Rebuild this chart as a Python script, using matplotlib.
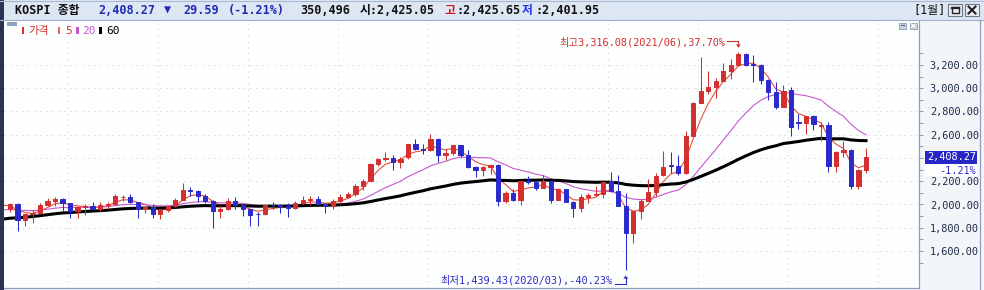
import numpy as np
import pandas as pd
import matplotlib
matplotlib.use("Agg")
import matplotlib.pyplot as plt
from matplotlib.patches import Rectangle, Polygon
from matplotlib.lines import Line2D
from matplotlib.transforms import IdentityTransform
from matplotlib.ticker import FixedLocator, FuncFormatter

# ---------------------------------------------------------------- data
months = pd.period_range("2013-05", "2022-11", freq="M").strftime("%Y/%m").tolist()

opens = [1963, 2001, 1863, 1914, 1926, 1997, 2030, 2045,
         2011, 1941, 1980, 1986, 1962, 1995, 2002, 2062, 2068, 2020, 1964, 1980,
         1915, 1949, 1986, 2041, 2127, 2115, 2074, 2030, 1941, 1963, 2029, 1992,
         1961, 1922, 1917, 1996, 1994, 1983, 1970, 2016, 2035, 2044, 2008, 1983,
         2026, 2067, 2092, 2160, 2205, 2347, 2392, 2403, 2363, 2410, 2523, 2476,
         2468, 2566, 2427, 2446, 2515, 2423, 2326, 2295, 2323, 2343, 2029, 2097,
         2041, 2205, 2195, 2141, 2204, 2042, 2131, 2025, 1968, 2063, 2083, 2088,
         2201, 2119, 1987, 1755, 1947, 2030, 2108, 2250, 2336, 2328, 2267, 2591,
         2874, 2976, 3013, 3061, 3148, 3204, 3297, 3210, 3199, 3069, 2971, 2839,
         2988, 2707, 2699, 2758, 2678, 2686, 2332, 2451, 2472, 2155, 2293]
highs = [2016, 2011, 1922, 1950, 2012, 2059, 2063, 2058,
         2013, 1986, 2004, 2018, 2020, 2023, 2093, 2082, 2093, 2025, 1990, 2000,
         1960, 1989, 2052, 2189, 2150, 2128, 2087, 2040, 1998, 2057, 2061, 2005,
         1961, 1934, 2003, 2022, 2000, 2011, 2027, 2073, 2073, 2069, 2015, 2048,
         2090, 2104, 2173, 2216, 2355, 2402, 2453, 2430, 2405, 2523, 2561, 2520,
         2607, 2573, 2474, 2515, 2516, 2471, 2330, 2330, 2346, 2345, 2114, 2134,
         2205, 2249, 2203, 2252, 2205, 2139, 2136, 2027, 2092, 2098, 2162, 2205,
         2277, 2250, 2098, 1947, 2050, 2223, 2269, 2459, 2448, 2424, 2634, 2878,
         3266, 3146, 3088, 3220, 3249, 3316.08, 3305, 3288, 3212, 3078, 3051, 3025,
         3010, 2780, 2758, 2767, 2707, 2706, 2460, 2546, 2474, 2306, 2489]
lows = [1935, 1770, 1815, 1840, 1915, 1990, 1985, 1940,
        1885, 1880, 1913, 1958, 1940, 1961, 1995, 2027, 2011, 1880, 1931, 1880,
        1876, 1932, 1982, 2038, 2072, 2020, 2009, 1800, 1886, 1955, 1961, 1901,
        1817, 1817, 1912, 1965, 1930, 1892, 1958, 2000, 1993, 2000, 1931, 1959,
        2007, 2052, 2076, 2124, 2200, 2332, 2374, 2300, 2311, 2394, 2469, 2434,
        2463, 2364, 2383, 2425, 2411, 2314, 2239, 2247, 2265, 1985, 2015, 2032,
        1994, 2175, 2125, 2140, 2016, 2040, 2019, 1891, 1938, 2010, 2079, 2054,
        2104, 1985, 1439.43, 1673, 1878, 2029, 2069, 2244, 2273, 2256, 2262, 2590,
        2869, 2954, 2919, 3061, 3083, 3197, 3193, 3055, 3036, 2901, 2818, 2837,
        2591.53, 2652, 2608, 2642, 2546, 2276, 2276, 2410, 2134, 2135, 2275]
closes = [2001.05, 1863.32, 1914.03, 1926.36, 1996.96, 2030.09, 2044.87, 2011.34,
          1941.15, 1979.99, 1985.61, 1961.79, 1994.96, 2002.21, 2076.12, 2068.54,
          2020.09, 1964.43, 1980.78, 1915.59,
          1949.26, 1985.80, 2041.03, 2127.17, 2114.80, 2074.20, 2030.16, 1941.49,
          1962.81, 2029.47, 1991.97, 1961.31,
          1912.06, 1916.66, 1995.85, 1994.15, 1983.40, 1970.35, 2016.19, 2034.65,
          2043.63, 2008.19, 1983.48, 2026.46,
          2067.57, 2091.64, 2160.23, 2205.44, 2347.38, 2391.79, 2402.71, 2363.19,
          2394.47, 2523.43, 2476.37, 2467.49,
          2566.46, 2427.36, 2445.85, 2515.38, 2423.01, 2326.13, 2295.26, 2322.88,
          2343.07, 2029.69, 2096.86, 2041.04,
          2204.85, 2195.44, 2140.67, 2203.59, 2041.74, 2130.62, 2024.55, 1967.79,
          2063.05, 2083.48, 2087.96, 2197.67,
          2119.01, 1987.01, 1754.64, 1947.56, 2029.60, 2108.33, 2249.37, 2326.17,
          2327.89, 2267.15, 2591.34, 2873.47,
          2976.21, 3012.95, 3061.42, 3147.86, 3203.92, 3296.68, 3202.32, 3199.27,
          3068.82, 2970.68, 2839.01, 2977.65,
          2663.34, 2699.18, 2757.65, 2695.05, 2685.90, 2332.64, 2451.50, 2472.05,
          2155.49, 2293.61, 2408.27]
# monthly closes 2008/05 - 2013/04 (off-screen lead-in for the moving averages)
history_close = [1852.02, 1674.92, 1594.67, 1474.24, 1448.06, 1113.06, 1076.07, 1124.47,
                 1162.11, 1063.03, 1206.26, 1369.36, 1395.89, 1390.07, 1557.29, 1591.85,
                 1673.14, 1580.69, 1555.60, 1682.77,
                 1602.43, 1594.58, 1692.85, 1741.56, 1641.25, 1698.29, 1759.33, 1742.75,
                 1872.81, 1882.95, 1904.63, 2051.00,
                 2069.73, 1939.30, 2106.70, 2192.36, 2142.47, 2100.69, 2133.21, 1880.11,
                 1769.65, 1909.03, 1847.51, 1825.74,
                 1955.79, 2030.25, 2014.04, 1981.99, 1843.47, 1854.01, 1881.99, 1905.12,
                 1996.21, 1912.06, 1932.90, 1997.05,
                 1961.94, 2026.49, 2004.89, 1963.95]
ma_periods = [5, 20, 60]
ma_colors = ["#e8503e", "#c957cf", "#000000"]
ma_widths = [0.8, 0.8, 2.2]
legend_labels = ["가격", "5", "20", "60"]
legend_colors = ["#d42f2f", "#e86a5a", "#c957cf", "#000000"]
y_ticks = [1600, 1800, 2000, 2200, 2400, 2600, 2800, 3000, 3200]
y_minor = [1500, 1700, 1900, 2100, 2300, 2500, 2700, 2900, 3100, 3300]

header_name = "KOSPI 종합"
last_price = 2408.27
change = 29.59
change_pct = -1.21
volume = "350,496"
day_open, day_high, day_low = 2425.05, 2425.65, 2401.95
period_label = "[1월]"

# ---------------------------------------------------------------- style
W, H, DPI = 984, 290, 100
RED = "#d42f2f"
BLUE = "#2b2bcc"
GRID = "#c3c9d4"
FRAME = "#8c9dbe"
MONO = ["DejaVu Sans Mono", "Noto Sans CJK KR", "DejaVu Sans"]
KR = ["Noto Sans CJK KR", "DejaVu Sans"]
plt.rcParams["font.family"] = MONO

fig = plt.figure(figsize=(W / DPI, H / DPI), dpi=DPI)
fig.patch.set_facecolor("#f3f6f9")
PX = IdentityTransform()


def rect(x0, y0, x1, y1, **kw):
    """rectangle given in top-origin pixel coordinates"""
    p = Rectangle((x0, H - y1), x1 - x0, y1 - y0, transform=PX, **kw)
    fig.add_artist(p)
    return p


def line(xs, ys, **kw):
    l = Line2D(xs, [H - y for y in ys], transform=PX, **kw)
    fig.add_artist(l)
    return l


def text(x, y, s, **kw):
    return fig.text(x, H - y, s, transform=PX, **kw)


# ---------------------------------------------------------------- axes
AX_L, AX_R, AX_T, AX_B = 4, 919, 20, 288
ax = fig.add_axes([AX_L / W, (H - AX_B) / H, (AX_R - AX_L) / W, (AX_B - AX_T) / H])
ax.set_facecolor("#fdfefe")

n = len(closes)
slot = 856 / 114.0
xmin = -(10 - AX_L) / slot
ax.set_xlim(xmin, xmin + (AX_R - AX_L) / slot)
ppu = 186 / 1600.0
y2000 = 204.5
ax.set_ylim(2000 - (AX_B - y2000) / ppu, 2000 + (y2000 - AX_T) / ppu)

# grid
for v in y_ticks:
    ax.axhline(v, color=GRID, lw=0.72, ls=(0, (1, 5)), zorder=0)
for gx in range(68, 900, 90):
    f = (gx - AX_L) / (AX_R - AX_L)
    ax.plot([f, f], [0, 1], transform=ax.transAxes, color=GRID, lw=0.72,
            ls=(0, (1, 5)), zorder=0)

# moving averages (weighted, as the terminal draws them)
full = np.array(history_close + closes, dtype=float)
full_x = np.arange(-len(history_close), n)
for p, colr, lw in zip(ma_periods, ma_colors, ma_widths):
    w = np.arange(1, p + 1, dtype=float)
    vals = np.full(len(full), np.nan)
    for t in range(p - 1, len(full)):
        vals[t] = np.dot(full[t - p + 1:t + 1], w) / w.sum()
    m = full_x >= -1
    ax.plot(full_x[m], vals[m], color=colr, lw=lw, zorder=2,
            solid_joinstyle="miter")

# candles
o = np.array(opens, float)
h = np.array(highs, float)
l = np.array(lows, float)
c = np.array(closes, float)
x = np.arange(n)
cols = np.where(c >= o, RED, BLUE)
ax.vlines(x, l, h, colors=cols, lw=0.75, zorder=3)
ax.bar(x, np.abs(c - o), bottom=np.minimum(o, c), width=0.56, color=cols,
       edgecolor=cols, linewidth=0.7, zorder=4)

# axis cosmetics (the 2,400 label sits under the current-price tag)
ax.set_xticks([])
ax.yaxis.tick_right()
ax.yaxis.set_major_locator(FixedLocator(y_ticks))
ax.yaxis.set_minor_locator(FixedLocator(y_minor))
ax.yaxis.set_major_formatter(
    FuncFormatter(lambda v, _: "" if abs(v - 2400) < 1 else f"{v:,.2f}"))
ax.tick_params(axis="y", which="both", direction="out", length=3.2, width=0.8,
               color=FRAME, pad=4.5, labelsize=7.4, labelcolor="#1f2a48")
for s in ["top", "left"]:
    ax.spines[s].set_visible(False)
for s in ["right", "bottom"]:
    ax.spines[s].set_color(FRAME)
    ax.spines[s].set_linewidth(0.9)

# high / low annotations
imax = int(np.argmax(h))
imin = int(np.argmin(l))
pmax = (h[imax] - c[-1]) / c[-1] * 100
pmin = (l[imin] - c[-1]) / c[-1] * 100
ax_, ay_ = ax.transData.transform((imax, h[imax]))
ay_ = H - ay_
text(ax_ - 13, ay_ - 9.3, f"최고{h[imax]:,.2f}({months[imax]}),{pmax:.2f}%",
     ha="right", va="center", color=RED, fontsize=7.4)
line([ax_ - 11, ax_, ax_], [ay_ - 10.5, ay_ - 10.5, ay_ - 6], color=RED, lw=0.8)
fig.add_artist(Polygon([(ax_ - 2.5, H - (ay_ - 7)), (ax_ + 2.5, H - (ay_ - 7)),
                        (ax_, H - (ay_ - 4))], closed=True, transform=PX,
                       color=RED, lw=0))

bx_, by_ = ax.transData.transform((imin, l[imin]))
by_ = H - by_
text(bx_ - 13, by_ + 10.5, f"최저{l[imin]:,.2f}({months[imin]}),{pmin:.2f}%",
     ha="right", va="center", color=BLUE, fontsize=7.4)
line([bx_ - 11, bx_, bx_], [by_ + 14, by_ + 14, by_ + 8], color=BLUE, lw=0.8)
fig.add_artist(Polygon([(bx_ - 2.5, H - (by_ + 9)), (bx_ + 2.5, H - (by_ + 9)),
                        (bx_, H - (by_ + 6))], closed=True, transform=PX,
                       color=BLUE, lw=0))

# current price tag on the right axis
_, ly = ax.transData.transform((0, c[-1]))
ly = H - ly
rect(925, ly - 6.5, 977, ly + 6.5, facecolor="#2626c4", edgecolor="none", zorder=10)
text(976, ly, f"{c[-1]:,.2f}", ha="right", va="center", color="white",
     fontsize=7.4, zorder=11)
rect(925, ly + 7, 977, ly + 19, facecolor="white", edgecolor="none", zorder=10)
text(976, ly + 13.5, f"{change_pct:.2f}%", ha="right", va="center", color=BLUE,
     fontsize=7.4, zorder=11)

# ---------------------------------------------------------------- frame / header
rect(0, 0, W, 20, facecolor="#dde6f3", edgecolor="none")
line([0, W], [0.5, 0.5], color="#aab8d0", lw=0.8)
line([0, W], [20, 20], color="#9fb0cc", lw=0.8)
rect(0, 0, 3.5, H, facecolor="#283452", edgecolor="none")
line([980, 980], [20, H], color=FRAME, lw=0.9)

hb = dict(va="center", ha="left", fontsize=8.5, fontweight="bold")
text(15, 10.5, header_name, color="#111111", **hb)
HB = "#1e2cb8"
text(98, 10.5, f"{last_price:,.2f}", color=HB, **hb)
text(164, 10.5, "▼", color=HB, **hb)
text(183, 10.5, f"{change:,.2f}", color=HB, **hb)
text(228, 10.5, f"({change_pct:.2f}%)", color=HB, **hb)
text(300, 10.5, volume, color="#111111", **hb)
text(360, 10.5, f"시:{day_open:,.2f}", color="#111111", **hb)
text(445, 10.5, "고", color="#e01010", **hb)
text(456, 10.5, f":{day_high:,.2f}", color="#111111", **hb)
text(522, 10.5, "저", color="#2233ee", **hb)
text(535, 10.5, f":{day_low:,.2f}", color="#111111", **hb)
text(913, 10.5, period_label, color="#111111", va="center", ha="left", fontsize=8.5)

# window buttons
for bx0 in (948, 965):
    rect(bx0, 4, bx0 + 14, 16, facecolor="#e9edf3", edgecolor="#6d7a90", lw=0.8)
rect(951.5, 7, 958.5, 13, facecolor="none", edgecolor="#222222", lw=1.0)
line([951.5, 958.5], [7.8, 7.8], color="#222222", lw=1.6)
line([968.5, 975.5], [6.5, 13.5], color="#222222", lw=1.5)
line([968.5, 975.5], [13.5, 6.5], color="#222222", lw=1.5)

# small panel icons
rect(7, 22, 17, 26, facecolor="#8fa2c0", edgecolor="none")
for ix in (899, 910):
    rect(ix, 22.5, ix + 6.5, 29, facecolor="#c9d2e0", edgecolor="#8c9ab2", lw=0.6)
line([900.5, 904], [24.5, 24.5], color="#5a6a88", lw=0.8)
line([911.5, 915], [24, 27.5], color="#ffffff", lw=0.8)
line([911.5, 915], [27.5, 24], color="#ffffff", lw=0.8)

# legend
leg_x = [(21.7, 28.3), (57.7, 65), (76, 82.3), (99, 106)]
for (bx, tx), lab, colr in zip(leg_x, legend_labels, legend_colors):
    rect(bx, 27.3, bx + 2.6, 34, facecolor=colr, edgecolor="none")
    text(tx, 31, lab, color=colr if lab != "5" else RED, va="center", ha="left",
         fontsize=8.0, family=KR if lab == "가격" else MONO)

fig.savefig("out.png", dpi=DPI, facecolor=fig.get_facecolor())
